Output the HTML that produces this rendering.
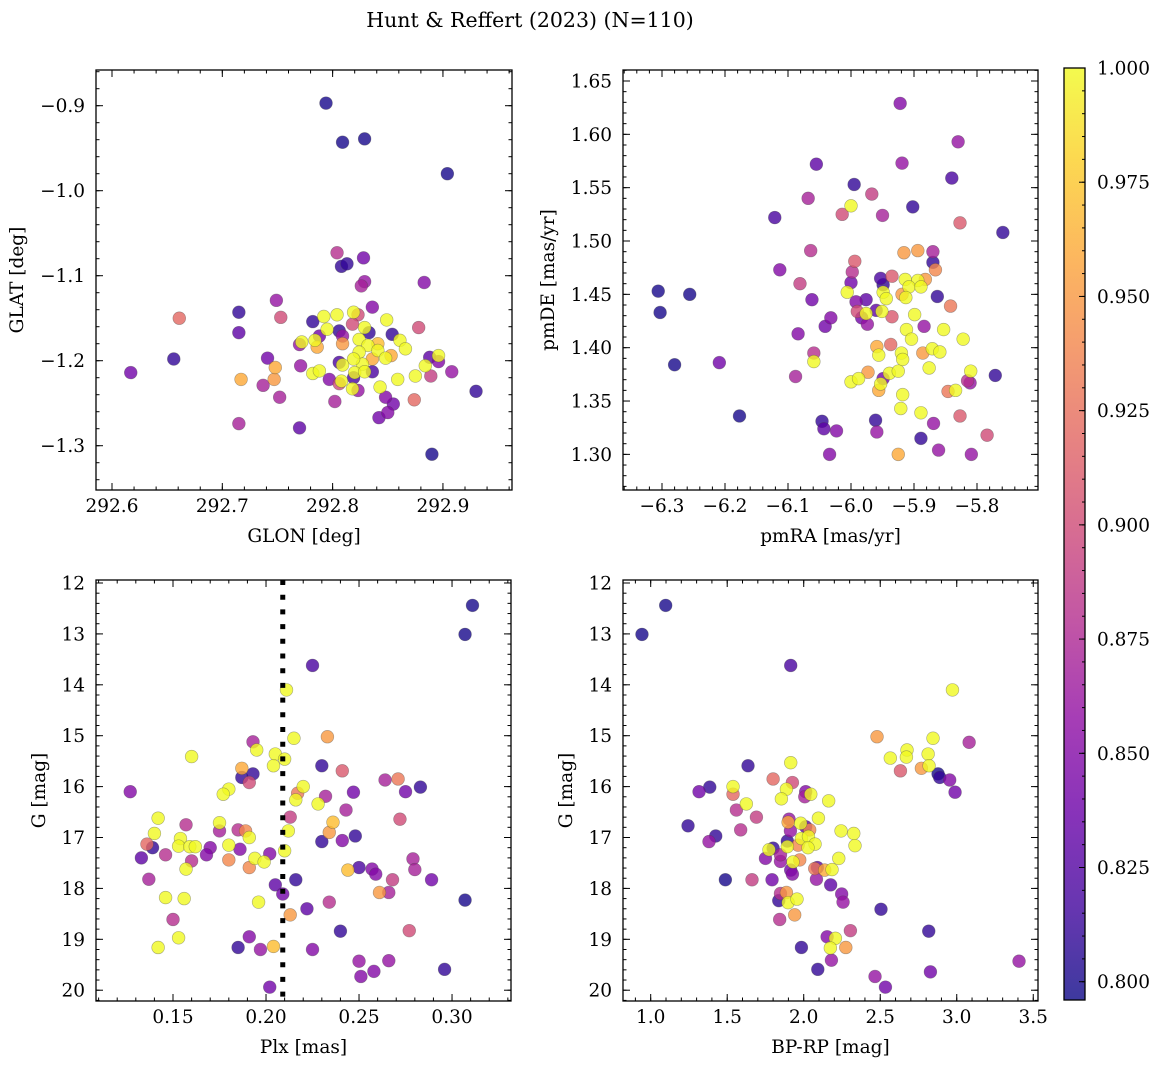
<!DOCTYPE html>
<html><head><meta charset="utf-8">
<style>
html,body{margin:0;padding:0;background:#fff;}
svg{display:block;font-family:"DejaVu Serif","Liberation Serif",serif;}
</style></head>
<body>
<svg id="fig" width="1161" height="1068" viewBox="0 0 1161 1068" xmlns="http://www.w3.org/2000/svg">
<defs>
<linearGradient id="plasma" x1="0" y1="1" x2="0" y2="0">
<stop offset="0" stop-color="#0d0887"/><stop offset="0.1" stop-color="#41049d"/><stop offset="0.2" stop-color="#6a00a8"/><stop offset="0.3" stop-color="#8f0da4"/><stop offset="0.4" stop-color="#b12a90"/><stop offset="0.5" stop-color="#cc4778"/><stop offset="0.6" stop-color="#e16462"/><stop offset="0.7" stop-color="#f2844b"/><stop offset="0.8" stop-color="#fca636"/><stop offset="0.9" stop-color="#fcce25"/><stop offset="1" stop-color="#f0f921"/>
</linearGradient>
</defs>
<text x="530" y="27" font-size="20.5" text-anchor="middle">Hunt &amp; Reffert (2023) (N=110)</text>
</svg>
<script>
// ---- Panel A: GLON vs GLAT ----
const glon=[292.794,292.809,292.829,292.904,292.804,292.808,292.813,292.828,292.829,292.826,292.883,292.749,292.836,292.661,292.753,292.715,292.715,292.656,292.617,292.717,292.748,292.747,292.741,292.737,292.771,292.752,292.715,292.770,292.782,292.792,292.804,292.819,292.823,292.818,292.795,292.806,292.829,292.833,292.849,292.854,292.878,292.861,292.866,292.772,292.770,292.784,292.786,292.788,292.809,292.809,292.824,292.832,292.841,292.841,292.824,292.853,292.848,292.836,292.827,292.819,292.806,292.809,292.836,292.820,292.829,292.782,292.788,292.797,292.806,292.808,292.819,292.818,292.823,292.802,292.843,292.848,292.855,292.850,292.842,292.859,292.875,292.874,292.884,292.888,292.896,292.896,292.889,292.908,292.930,292.890];
const glat=[-0.897,-0.943,-0.939,-0.980,-1.073,-1.089,-1.086,-1.079,-1.107,-1.112,-1.108,-1.129,-1.137,-1.150,-1.149,-1.143,-1.167,-1.198,-1.214,-1.222,-1.208,-1.222,-1.197,-1.229,-1.206,-1.243,-1.274,-1.279,-1.154,-1.148,-1.146,-1.143,-1.146,-1.157,-1.163,-1.165,-1.161,-1.167,-1.152,-1.169,-1.161,-1.176,-1.186,-1.178,-1.181,-1.176,-1.184,-1.171,-1.171,-1.180,-1.175,-1.182,-1.180,-1.188,-1.190,-1.194,-1.197,-1.198,-1.204,-1.198,-1.202,-1.205,-1.213,-1.214,-1.213,-1.215,-1.212,-1.222,-1.227,-1.224,-1.220,-1.233,-1.235,-1.248,-1.231,-1.243,-1.251,-1.261,-1.267,-1.222,-1.218,-1.246,-1.206,-1.196,-1.201,-1.194,-1.218,-1.213,-1.236,-1.310];
const probA=[0.80,0.80,0.80,0.80,0.88,0.81,0.81,0.84,0.86,0.87,0.85,0.86,0.85,0.92,0.90,0.81,0.83,0.81,0.84,0.96,0.96,0.95,0.84,0.87,0.86,0.87,0.87,0.83,0.81,1.0,1.0,1.0,0.90,0.90,1.0,0.81,1.0,0.81,1.0,0.81,0.90,1.0,1.0,1.0,0.86,1.0,0.96,0.84,0.86,0.95,1.0,1.0,0.97,1.0,1.0,0.96,1.0,0.96,1.0,1.0,0.82,1.0,0.82,1.0,1.0,1.0,1.0,0.85,0.90,1.0,0.82,1.0,0.86,0.87,1.0,0.85,0.84,0.85,0.84,1.0,1.0,0.92,1.0,0.83,0.85,1.0,0.89,0.86,0.81,0.80];

// ---- Panel B: pmRA vs pmDE ----
const pmra=[-5.922,-5.830,-5.919,-6.055,-5.840,-5.995,-5.967,-6.068,-6.000,-6.014,-5.950,-5.902,-6.121,-5.827,-5.759,-6.064,-5.916,-5.894,-5.870,-5.870,-5.994,-5.998,-6.113,-5.866,-6.081,-5.935,-5.953,-6.000,-5.914,-5.894,-5.882,-5.908,-5.889,-5.949,-6.006,-5.949,-5.919,-5.913,-5.944,-5.863,-6.306,-6.256,-6.303,-6.062,-5.976,-5.992,-5.990,-5.960,-5.976,-5.951,-5.935,-5.899,-5.842,-6.032,-5.983,-5.974,-6.041,-5.884,-5.912,-5.853,-5.904,-5.822,-6.084,-5.959,-5.937,-5.956,-5.920,-5.918,-5.886,-5.871,-5.859,-6.059,-6.059,-6.280,-6.209,-5.771,-6.088,-5.973,-5.939,-5.925,-5.876,-5.810,-5.815,-5.811,-6.000,-5.988,-5.949,-5.953,-5.956,-5.846,-5.834,-5.918,-5.921,-5.889,-6.177,-5.827,-6.046,-5.961,-6.043,-6.023,-5.959,-5.869,-5.889,-5.784,-5.861,-6.034,-5.925,-5.809];
const pmde=[1.629,1.593,1.573,1.572,1.559,1.553,1.544,1.540,1.533,1.525,1.524,1.532,1.522,1.517,1.508,1.491,1.489,1.491,1.490,1.480,1.481,1.471,1.473,1.473,1.460,1.467,1.465,1.461,1.464,1.463,1.464,1.457,1.457,1.459,1.452,1.452,1.450,1.447,1.446,1.448,1.453,1.450,1.433,1.445,1.445,1.443,1.434,1.435,1.432,1.434,1.429,1.431,1.439,1.428,1.428,1.422,1.420,1.420,1.417,1.417,1.408,1.408,1.413,1.401,1.403,1.393,1.395,1.389,1.395,1.399,1.396,1.395,1.387,1.384,1.386,1.374,1.373,1.377,1.376,1.378,1.381,1.378,1.369,1.367,1.368,1.371,1.371,1.366,1.360,1.359,1.360,1.356,1.343,1.339,1.336,1.336,1.331,1.332,1.324,1.322,1.321,1.329,1.315,1.318,1.304,1.300,1.300,1.300];
const probB=[0.85,0.86,0.86,0.83,0.82,0.81,0.89,0.87,1.0,0.90,0.87,0.81,0.82,0.91,0.81,0.88,0.95,0.95,0.87,0.81,0.91,0.88,0.85,0.94,0.89,0.91,0.82,0.84,1.0,1.0,0.95,1.0,1.0,0.81,1.0,1.0,0.95,1.0,1.0,0.81,0.80,0.80,0.80,0.84,0.83,0.85,0.90,0.83,1.0,1.0,0.91,1.0,0.93,0.85,0.84,0.86,0.84,0.86,1.0,1.0,1.0,1.0,0.85,0.96,0.92,1.0,1.0,1.0,0.95,1.0,1.0,0.88,1.0,0.80,0.84,0.81,0.87,0.95,1.0,1.0,1.0,1.0,0.88,0.86,1.0,1.0,0.84,1.0,0.96,0.93,1.0,1.0,1.0,1.0,0.80,0.91,0.81,0.81,0.83,0.85,0.86,0.86,0.81,0.90,0.86,0.85,0.96,0.86];

// ---- Panel C: Plx vs G ----
const plx=[0.311,0.307,0.225,0.211,0.233,0.215,0.193,0.195,0.160,0.205,0.210,0.204,0.230,0.187,0.187,0.193,0.191,0.241,0.264,0.271,0.283,0.275,0.127,0.180,0.177,0.220,0.217,0.216,0.232,0.247,0.228,0.243,0.213,0.142,0.157,0.175,0.175,0.185,0.189,0.191,0.236,0.234,0.272,0.212,0.140,0.136,0.139,0.154,0.153,0.159,0.162,0.170,0.180,0.186,0.202,0.210,0.230,0.241,0.248,0.133,0.146,0.168,0.160,0.180,0.194,0.199,0.191,0.157,0.279,0.280,0.250,0.257,0.259,0.244,0.137,0.268,0.289,0.216,0.205,0.209,0.261,0.266,0.146,0.156,0.196,0.234,0.307,0.222,0.213,0.150,0.240,0.277,0.153,0.191,0.142,0.185,0.197,0.204,0.225,0.250,0.266,0.258,0.296,0.251,0.202];
const gmagC=[12.44,13.01,13.62,14.10,15.02,15.05,15.12,15.28,15.41,15.36,15.46,15.59,15.59,15.64,15.82,15.75,15.92,15.69,15.87,15.85,16.01,16.10,16.10,16.05,16.15,16.00,16.13,16.26,16.19,16.11,16.34,16.46,16.60,16.62,16.75,16.71,16.87,16.85,16.87,17.00,16.70,16.90,16.64,16.87,16.92,17.13,17.20,17.02,17.17,17.18,17.18,17.20,17.15,17.23,17.32,17.26,17.08,17.06,16.97,17.40,17.34,17.34,17.46,17.44,17.41,17.48,17.59,17.62,17.42,17.63,17.59,17.62,17.72,17.64,17.82,17.83,17.83,17.83,17.93,18.11,18.08,18.08,18.18,18.20,18.27,18.27,18.23,18.40,18.52,18.61,18.84,18.83,18.97,18.95,19.16,19.16,19.20,19.14,19.20,19.43,19.42,19.63,19.59,19.73,19.94];
const probC=[0.80,0.80,0.82,1.0,0.95,1.0,0.87,1.0,1.0,1.0,1.0,1.0,0.81,0.96,0.81,0.81,0.90,0.91,0.87,0.93,0.81,0.84,0.85,1.0,1.0,1.0,0.93,1.0,0.87,0.84,1.0,0.87,0.89,1.0,0.88,1.0,0.87,0.88,0.94,1.0,0.97,0.95,0.90,1.0,1.0,0.92,0.81,1.0,1.0,1.0,1.0,0.85,1.0,0.85,0.85,1.0,0.81,0.85,0.81,0.83,0.88,0.85,0.88,0.94,1.0,1.0,0.94,1.0,0.87,0.87,0.82,0.85,0.85,0.97,0.87,0.89,0.84,0.81,0.83,0.84,0.95,0.87,1.0,1.0,1.0,0.88,0.80,0.83,0.95,0.88,0.81,0.90,1.0,0.85,1.0,0.81,0.86,0.97,0.85,0.86,0.86,0.85,0.81,0.85,0.84];

// ---- Panel D: BP-RP vs G ----
const bprp=[0.943,1.098,1.915,2.972,2.479,2.845,3.081,2.675,2.671,2.566,2.813,2.819,2.769,2.632,2.878,2.889,2.954,2.989,1.915,1.636,1.800,1.926,1.538,1.538,1.386,1.316,1.887,1.854,2.013,2.007,2.046,2.163,1.625,1.560,1.691,2.096,1.904,1.898,1.980,2.013,2.039,2.244,2.327,2.335,1.913,1.588,1.244,1.425,1.381,1.893,1.985,2.031,2.074,2.028,1.963,1.893,1.800,1.773,1.750,1.848,1.848,1.974,1.930,1.915,1.926,2.229,2.089,2.072,2.137,2.185,2.083,1.662,1.793,1.488,2.176,2.248,2.257,1.848,1.837,1.887,1.898,1.956,1.941,1.843,2.505,2.305,2.817,2.153,2.207,1.985,2.174,2.275,2.181,3.407,2.092,2.828,2.466,2.534];
const gmagD=[13.01,12.44,13.62,14.10,15.02,15.05,15.13,15.28,15.42,15.44,15.36,15.59,15.64,15.69,15.75,15.82,15.87,16.11,15.53,15.59,15.85,15.92,16.00,16.15,16.01,16.10,16.05,16.24,16.10,16.20,16.15,16.28,16.34,16.46,16.60,16.62,16.64,16.70,16.72,16.79,16.85,16.87,16.92,17.16,16.87,16.85,16.77,16.97,17.08,17.07,17.02,16.98,17.13,17.20,17.15,17.18,17.21,17.24,17.41,17.34,17.47,17.44,17.48,17.64,17.72,17.41,17.59,17.61,17.64,17.63,17.82,17.83,17.83,17.83,17.93,18.11,18.27,18.10,18.24,18.08,18.28,18.21,18.52,18.61,18.41,18.83,18.84,18.95,18.98,19.16,19.17,19.16,19.41,19.43,19.59,19.64,19.73,19.94];
const probD=[0.80,0.80,0.82,1.0,0.95,1.0,0.87,1.0,1.0,1.0,1.0,1.0,0.95,0.91,0.80,0.81,0.85,0.84,1.0,0.81,0.92,0.90,1.0,0.92,0.81,0.84,1.0,1.0,0.85,0.87,1.0,1.0,1.0,0.88,0.89,1.0,0.86,0.96,1.0,0.83,0.94,1.0,1.0,1.0,0.86,0.88,0.81,0.81,0.86,0.81,1.0,1.0,1.0,1.0,0.94,1.0,0.81,1.0,0.85,0.87,0.86,0.94,1.0,0.84,0.85,1.0,0.83,0.93,0.96,1.0,0.86,0.89,0.84,0.80,0.83,0.85,0.86,0.88,0.81,0.95,1.0,1.0,0.95,0.88,0.81,0.89,0.81,0.85,1.0,0.81,1.0,0.95,0.86,0.86,0.81,0.84,0.86,0.84];

const plxCut=0.209;
const cbTicks=[0.800,0.825,0.850,0.875,0.900,0.925,0.950,0.975,1.000];
const cMin=0.796, cMax=1.0;

const NS='http://www.w3.org/2000/svg';
const svg=document.getElementById('fig');
const FS=18.5;
function mk(tag,attrs,parent){const e=document.createElementNS(NS,tag);for(const k in attrs)e.setAttribute(k,attrs[k]);(parent||svg).appendChild(e);return e;}
const stops=[[13,8,135],[65,4,157],[106,0,168],[143,13,164],[177,42,144],[204,71,120],[225,100,98],[242,132,75],[252,166,54],[252,206,37],[240,249,33]];
function plasma(v){let t=(v-cMin)/(cMax-cMin);t=Math.max(0,Math.min(1,t));const f=t*10,i=Math.min(9,Math.floor(f)),u=f-i;const a=stops[i],b=stops[i+1];return 'rgb('+a.map((c,k)=>Math.round(c+(b[k]-c)*u)).join(',')+')';}
function fmt(v,d){const s=Math.abs(v).toFixed(d);return (v<-1e-9?'\u2212':'')+s;}

function panel(cfg){
  const g=mk('g',{});
  
  
  const {L,R,T,B}=cfg;
  const sx=v=>L+(v-cfg.x0)/(cfg.x1-cfg.x0)*(R-L);
  const sy=v=>cfg.yinv? T+(v-cfg.y0)/(cfg.y1-cfg.y0)*(B-T) : B-(v-cfg.y0)/(cfg.y1-cfg.y0)*(B-T);
  const idx=cfg.xs.map((_,i)=>i).sort((a,b)=>cfg.cs[a]-cfg.cs[b]);
  const pg=mk('g',{},g);
  
  
  for(const i of idx){
    const c=mk('circle',{cx:sx(cfg.xs[i]),cy:sy(cfg.ys[i]),r:6.4,fill:plasma(cfg.cs[i]),'fill-opacity':0.8,stroke:'rgba(70,70,70,0.45)','stroke-width':0.6},pg);
    
    
  }
  if(cfg.vline!==undefined){
    const l=mk('line',{x1:sx(cfg.vline),x2:sx(cfg.vline),y1:T,y2:B,stroke:'#000','stroke-width':5,'stroke-dasharray':'5 9.7'},g);
    
    
  }
  const tg=mk('g',{stroke:'#000','stroke-width':1},g);
  function ticks(lo,hi,step){const out=[];const a=Math.ceil(lo/step-1e-6),b=Math.floor(hi/step+1e-6);for(let k=a;k<=b;k++)out.push(k*step);return out;}
  for(const v of ticks(cfg.x0,cfg.x1,cfg.xmin)){const x=sx(v);mk('line',{x1:x,x2:x,y1:B,y2:B-3.5},tg);mk('line',{x1:x,x2:x,y1:T,y2:T+3.5},tg);}
  for(const v of ticks(Math.min(cfg.y0,cfg.y1),Math.max(cfg.y0,cfg.y1),cfg.ymin)){const y=sy(v);mk('line',{x1:L,x2:L+3.5,y1:y,y2:y},tg);mk('line',{x1:R,x2:R-3.5,y1:y,y2:y},tg);}
  for(const v of ticks(cfg.x0,cfg.x1,cfg.xmaj)){const x=sx(v);mk('line',{x1:x,x2:x,y1:B,y2:B-7},tg);mk('line',{x1:x,x2:x,y1:T,y2:T+7},tg);
    const t=mk('text',{x:x,y:B+22,'font-size':FS,'text-anchor':'middle'},g);t.textContent=fmt(v,cfg.xd);
    }
  for(const v of ticks(Math.min(cfg.y0,cfg.y1),Math.max(cfg.y0,cfg.y1),cfg.ymaj)){const y=sy(v);mk('line',{x1:L,x2:L+7,y1:y,y2:y},tg);mk('line',{x1:R,x2:R-7,y1:y,y2:y},tg);
    const t=mk('text',{x:L-11,y:y+6.5,'font-size':FS,'text-anchor':'end'},g);t.textContent=fmt(v,cfg.yd);
    }
  const fr=mk('rect',{x:L,y:T,width:R-L,height:B-T,fill:'none',stroke:'#000','stroke-width':1.3},g);
  
  const xl=mk('text',{x:(L+R)/2,y:B+52,'font-size':FS,'text-anchor':'middle'},g);xl.textContent=cfg.xlab;
  
  const yl=mk('text',{x:0,y:0,'font-size':FS,'text-anchor':'middle',transform:'translate('+cfg.ylx+','+(T+B)/2+') rotate(-90)'},g);yl.textContent=cfg.ylab;
  
}

panel({name:'glon-glat-panel',L:96,R:512,T:70,B:490,x0:292.5855,x1:292.9626,y0:-1.3521,y1:-0.858,xmaj:0.1,xmin:0.02,ymaj:0.1,ymin:0.02,xd:1,yd:1,xs:glon,ys:glat,cs:probA,xlab:'GLON [deg]',ylab:'GLAT [deg]',ylx:23});
panel({name:'pm-panel',L:623,R:1038,T:70,B:490,x0:-6.3619,x1:-5.7032,y0:1.2666,y1:1.6603,xmaj:0.1,xmin:0.02,ymaj:0.05,ymin:0.01,xd:1,yd:2,xs:pmra,ys:pmde,cs:probB,xlab:'pmRA [mas/yr]',ylab:'pmDE [mas/yr]',ylx:554});
panel({name:'plx-g-panel',L:96,R:511,T:580,B:1001,x0:0.1086,x1:0.3317,y0:11.941,y1:20.212,yinv:true,xmaj:0.05,xmin:0.01,ymaj:1,ymin:0.2,xd:2,yd:0,xs:plx,ys:gmagC,cs:probC,xlab:'Plx [mas]',ylab:'G [mag]',ylx:45,vline:plxCut});
panel({name:'cmd-panel',L:623,R:1038,T:580,B:1001,x0:0.819,x1:3.531,y0:11.941,y1:20.212,yinv:true,xmaj:0.5,xmin:0.1,ymaj:1,ymin:0.2,xd:1,yd:0,xs:bprp,ys:gmagD,cs:probD,xlab:'BP-RP [mag]',ylab:'G [mag]',ylx:572});

const cb=mk('g',{});


const cT=68,cB=1000,cL=1064,cR=1085;
const cy=v=>cB-(v-cMin)/(cMax-cMin)*(cB-cT);
mk('rect',{x:cL,y:cT,width:cR-cL,height:cB-cT,fill:'url(#plasma)','fill-opacity':0.8},cb);
for(let k=Math.ceil(cMin/0.005);k<=Math.floor(cMax/0.005+1e-6);k++){const y=cy(k*0.005);mk('line',{x1:cR,x2:cR-3,y1:y,y2:y,stroke:'#000','stroke-width':1},cb);}
for(const v of cbTicks){const y=cy(v);mk('line',{x1:cR,x2:cR-6,y1:y,y2:y,stroke:'#000','stroke-width':1},cb);
  const t=mk('text',{x:1097,y:y+6.5,'font-size':FS},cb);t.textContent=v.toFixed(3);
  }
mk('rect',{x:cL,y:cT,width:cR-cL,height:cB-cT,fill:'none',stroke:'#000','stroke-width':1.3},cb);
</script>
</body></html>
